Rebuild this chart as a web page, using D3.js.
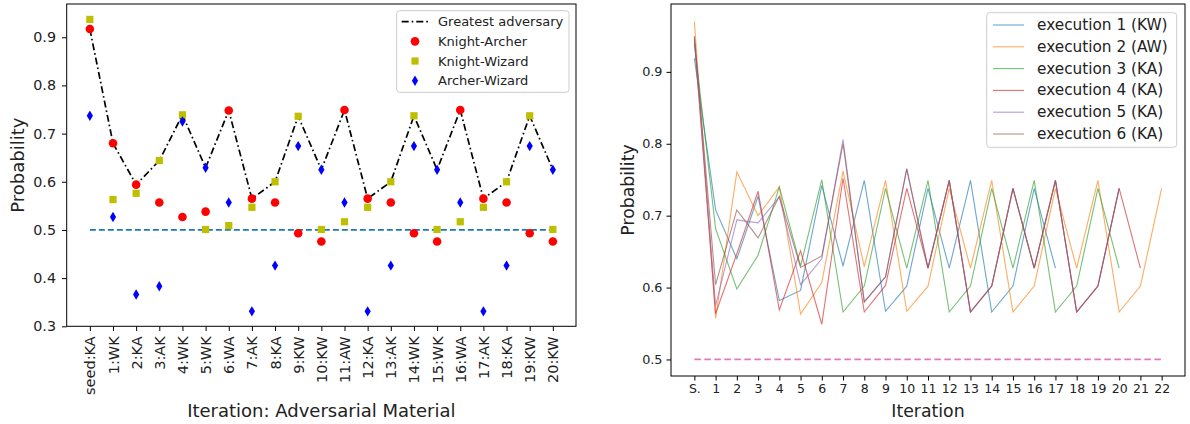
<!DOCTYPE html>
<html>
<head>
<meta charset="utf-8">
<script src="https://cdn.jsdelivr.net/npm/d3@7"></script>
<style>
  html, body { margin: 0; padding: 0; background: #fff; }
  svg { display: block; font-family: "DejaVu Sans", sans-serif; }
</style>
</head>
<body>
<svg id="chart" width="1190" height="424"></svg>
<script>
// ---- Left panel: pairwise win probabilities per iteration ----
const iterLabels = ["seed:KA", "1:WK", "2:KA", "3:AK", "4:WK", "5:WK", "6:WA", "7:AK", "8:KA", "9:KW",
  "10:KW", "11:AW", "12:KA", "13:AK", "14:WK", "15:WK", "16:WA", "17:AK", "18:KA", "19:KW", "20:KW"];
const greatestAdversary = [0.917, 0.680, 0.594, 0.644, 0.739, 0.629, 0.748, 0.565, 0.600, 0.736,
  0.625, 0.749, 0.565, 0.600, 0.737, 0.625, 0.749, 0.565, 0.600, 0.737, 0.625];
const knightArcher = [0.917, 0.680, 0.594, 0.557, 0.527, 0.538, 0.748, 0.565, 0.557, 0.493,
  0.476, 0.749, 0.565, 0.557, 0.493, 0.476, 0.749, 0.565, 0.557, 0.493, 0.476];
const knightWizard = [0.937, 0.563, 0.576, 0.644, 0.739, 0.501, 0.509, 0.547, 0.600, 0.736,
  0.501, 0.517, 0.547, 0.600, 0.737, 0.501, 0.517, 0.547, 0.600, 0.737, 0.501];
const archerWizard = [0.737, 0.527, 0.366, 0.383, 0.725, 0.629, 0.557, 0.331, 0.426, 0.674,
  0.625, 0.557, 0.331, 0.426, 0.674, 0.625, 0.557, 0.331, 0.426, 0.674, 0.625];
const leftYTicks = [0.3, 0.4, 0.5, 0.6, 0.7, 0.8, 0.9];
const baseline = 0.5;

// ---- Right panel: probability traces of six executions ----
const execNames = ["execution 1 (KW)", "execution 2 (AW)", "execution 3 (KA)",
  "execution 4 (KA)", "execution 5 (KA)", "execution 6 (KA)"];
const exec1 = [0.919, 0.708, 0.640, 0.727, 0.582, 0.596, 0.742, 0.630, 0.749, 0.567, 0.602, 0.738,
  0.627, 0.749, 0.566, 0.602, 0.738, 0.627];
const exec2 = [0.970, 0.557, 0.761, 0.700, 0.740, 0.563, 0.607, 0.762, 0.629, 0.749, 0.567, 0.602,
  0.738, 0.627, 0.749, 0.566, 0.602, 0.738, 0.627, 0.749, 0.566, 0.602, 0.738];
const exec3 = [0.940, 0.682, 0.598, 0.645, 0.740, 0.630, 0.750, 0.566, 0.602, 0.738, 0.627, 0.749,
  0.566, 0.602, 0.738, 0.627, 0.749, 0.566, 0.602, 0.738, 0.627];
const exec4 = [0.945, 0.564, 0.647, 0.734, 0.569, 0.651, 0.549, 0.752, 0.566, 0.603, 0.738, 0.627,
  0.749, 0.566, 0.602, 0.738, 0.627, 0.749, 0.566, 0.602, 0.738, 0.627];
const exec5 = [0.948, 0.575, 0.694, 0.690, 0.726, 0.604, 0.640, 0.806, 0.580, 0.615, 0.765, 0.627,
  0.749, 0.566, 0.602, 0.738, 0.627, 0.749, 0.566, 0.602, 0.738];
const exec6 = [0.950, 0.604, 0.708, 0.669, 0.727, 0.628, 0.644, 0.800, 0.580, 0.615, 0.765, 0.627,
  0.749, 0.566, 0.602, 0.738, 0.627, 0.749, 0.566, 0.602, 0.738];
const rightXTickLabels = ["S.", "1", "2", "3", "4", "5", "6", "7", "8", "9", "10", "11", "12", "13",
  "14", "15", "16", "17", "18", "19", "20", "21", "22"];
const rightYTicks = [0.5, 0.6, 0.7, 0.8, 0.9];

const tab10 = ["#1f77b4", "#ff7f0e", "#2ca02c", "#d62728", "#9467bd", "#8c564b", "#e377c2"];
const textColor = "#222";

const svg = d3.select("#chart");

// ================= Left panel =================
const L = { left: 66.7, right: 576, top: 4, bottom: 326.3 };
const xL = d3.scaleLinear().domain([-1, iterLabels.length]).range([L.left, L.right]);
const yL = d3.scaleLinear().domain([0.3, 0.969]).range([L.bottom, L.top]);

const gL = svg.append("g");

// y axis
const yAxisL = d3.axisLeft(yL).tickValues(leftYTicks).tickFormat(d3.format(".1f")).tickSize(4.7).tickPadding(6);
gL.append("g").attr("transform", `translate(${L.left},0)`).call(yAxisL)
  .call(g => g.select(".domain").remove())
  .call(g => g.selectAll("line").attr("stroke", "#000").attr("stroke-width", 1))
  .call(g => g.selectAll("text").attr("font-size", 14.3).attr("fill", textColor)
    .attr("font-family", "DejaVu Sans"));

// x axis with rotated labels
const xAxisL = d3.axisBottom(xL).tickValues(d3.range(iterLabels.length))
  .tickFormat(i => iterLabels[i]).tickSize(4.7).tickPadding(4);
gL.append("g").attr("transform", `translate(0,${L.bottom})`).call(xAxisL)
  .call(g => g.select(".domain").remove())
  .call(g => g.selectAll("line").attr("stroke", "#000").attr("stroke-width", 1))
  .call(g => g.selectAll("text").attr("font-size", 14.5).attr("fill", textColor)
    .attr("font-family", "DejaVu Sans")
    .attr("text-anchor", "end").attr("dy", null).attr("y", 0)
    .attr("dominant-baseline", "central")
    .attr("transform", "translate(0,10) rotate(-90)"));

// reference line at 0.5
gL.append("line")
  .attr("x1", xL(0)).attr("x2", xL(iterLabels.length - 1))
  .attr("y1", yL(baseline)).attr("y2", yL(baseline))
  .attr("stroke", tab10[0]).attr("stroke-width", 1.8).attr("stroke-dasharray", "6,3");

// greatest adversary line
const lineL = d3.line().x((d, i) => xL(i)).y(d => yL(d));
gL.append("path").datum(greatestAdversary).attr("d", lineL)
  .attr("fill", "none").attr("stroke", "#000").attr("stroke-width", 1.7)
  .attr("stroke-dasharray", "7,3,1.6,3");

// markers
const diamondPath = (cx, cy) => `M${cx},${cy - 5.2}L${cx + 3.1},${cy}L${cx},${cy + 5.2}L${cx - 3.1},${cy}Z`;

gL.append("g").selectAll("circle").data(knightArcher).join("circle")
  .attr("cx", (d, i) => xL(i)).attr("cy", d => yL(d)).attr("r", 4.3).attr("fill", "#ff0000");
gL.append("g").selectAll("rect").data(knightWizard).join("rect")
  .attr("x", (d, i) => xL(i) - 3.6).attr("y", d => yL(d) - 3.6)
  .attr("width", 7.2).attr("height", 7.2).attr("fill", "#bfbf00");
gL.append("g").selectAll("path").data(archerWizard).join("path")
  .attr("d", (d, i) => diamondPath(xL(i), yL(d))).attr("fill", "#0000ff");

// frame
gL.append("rect").attr("x", L.left).attr("y", L.top)
  .attr("width", L.right - L.left).attr("height", L.bottom - L.top)
  .attr("fill", "none").attr("stroke", "#000").attr("stroke-width", 1);

// axis titles
gL.append("text").attr("x", (L.left + L.right) / 2).attr("y", 417)
  .attr("text-anchor", "middle").attr("font-size", 18).attr("fill", textColor)
  .text("Iteration: Adversarial Material");
gL.append("text").attr("transform", `translate(24,${(L.top + L.bottom) / 2}) rotate(-90)`)
  .attr("text-anchor", "middle").attr("font-size", 18).attr("fill", textColor)
  .text("Probability");

// legend
const legL = gL.append("g");
legL.append("rect").attr("x", 396.7).attr("y", 10.7).attr("width", 172.3).attr("height", 81.6)
  .attr("rx", 3).attr("fill", "#fff").attr("fill-opacity", 0.8)
  .attr("stroke", "#ccc").attr("stroke-width", 1);
const legLItems = ["Greatest adversary", "Knight-Archer", "Knight-Wizard", "Archer-Wizard"];
legLItems.forEach((name, k) => {
  const cy = 21.7 + k * 19.67;
  const hx = 415;
  if (k === 0) {
    legL.append("line").attr("x1", 401.7).attr("x2", 428).attr("y1", cy).attr("y2", cy)
      .attr("stroke", "#000").attr("stroke-width", 1.7).attr("stroke-dasharray", "7,3,1.6,3");
  } else if (k === 1) {
    legL.append("circle").attr("cx", hx).attr("cy", cy).attr("r", 4.3).attr("fill", "#ff0000");
  } else if (k === 2) {
    legL.append("rect").attr("x", hx - 3.6).attr("y", cy - 3.6).attr("width", 7.2).attr("height", 7.2)
      .attr("fill", "#bfbf00");
  } else {
    legL.append("path").attr("d", diamondPath(hx, cy)).attr("fill", "#0000ff");
  }
  legL.append("text").attr("x", 438).attr("y", cy).attr("dominant-baseline", "central")
    .attr("font-size", 13).attr("fill", textColor).text(name);
});

// ================= Right panel =================
const R = { left: 671, right: 1185, top: 4, bottom: 376 };
const xR = d3.scaleLinear().domain([-1.1, 23.1]).range([R.left, R.right]);
const yR = d3.scaleLinear().domain([0.477, 0.9944]).range([R.bottom, R.top]);

const gR = svg.append("g");

const yAxisR = d3.axisLeft(yR).tickValues(rightYTicks).tickFormat(d3.format(".1f")).tickSize(4.5).tickPadding(4);
gR.append("g").attr("transform", `translate(${R.left},0)`).call(yAxisR)
  .call(g => g.select(".domain").remove())
  .call(g => g.selectAll("line").attr("stroke", "#000").attr("stroke-width", 1))
  .call(g => g.selectAll("text").attr("font-size", 12.8).attr("fill", textColor)
    .attr("font-family", "DejaVu Sans"));

const xAxisR = d3.axisBottom(xR).tickValues(d3.range(rightXTickLabels.length))
  .tickFormat(i => rightXTickLabels[i]).tickSize(4.5).tickPadding(4);
gR.append("g").attr("transform", `translate(0,${R.bottom})`).call(xAxisR)
  .call(g => g.select(".domain").remove())
  .call(g => g.selectAll("line").attr("stroke", "#000").attr("stroke-width", 1))
  .call(g => g.selectAll("text").attr("font-size", 12.5).attr("fill", textColor)
    .attr("font-family", "DejaVu Sans"));

const execs = [exec1, exec2, exec3, exec4, exec5, exec6];
const lineR = d3.line().x((d, i) => xR(i)).y(d => yR(d));
gR.append("g").selectAll("path").data(execs).join("path")
  .attr("d", lineR).attr("fill", "none")
  .attr("stroke", (d, i) => tab10[i]).attr("stroke-width", 1.1).attr("stroke-opacity", 0.65)
  .attr("stroke-linejoin", "miter");

// 0.5 reference
gR.append("line").attr("x1", xR(0)).attr("x2", xR(rightXTickLabels.length - 1))
  .attr("y1", yR(baseline)).attr("y2", yR(baseline))
  .attr("stroke", tab10[6]).attr("stroke-width", 1.8).attr("stroke-dasharray", "6.5,3.5");

gR.append("rect").attr("x", R.left).attr("y", R.top)
  .attr("width", R.right - R.left).attr("height", R.bottom - R.top)
  .attr("fill", "none").attr("stroke", "#000").attr("stroke-width", 1);

gR.append("text").attr("x", (R.left + R.right) / 2).attr("y", 417)
  .attr("text-anchor", "middle").attr("font-size", 17.3).attr("fill", textColor).text("Iteration");
gR.append("text").attr("transform", `translate(634,${(R.top + R.bottom) / 2}) rotate(-90)`)
  .attr("text-anchor", "middle").attr("font-size", 17.3).attr("fill", textColor).text("Probability");

const legR = gR.append("g");
legR.append("rect").attr("x", 986.7).attr("y", 12.7).attr("width", 190).attr("height", 134.6)
  .attr("rx", 3).attr("fill", "#fff").attr("fill-opacity", 0.8)
  .attr("stroke", "#ccc").attr("stroke-width", 1);
execNames.forEach((name, k) => {
  const cy = 25 + k * 21.8;
  legR.append("line").attr("x1", 993).attr("x2", 1024).attr("y1", cy).attr("y2", cy)
    .attr("stroke", tab10[k]).attr("stroke-width", 1.1).attr("stroke-opacity", 0.65);
  legR.append("text").attr("x", 1037).attr("y", cy).attr("dominant-baseline", "central")
    .attr("font-size", 15.3).attr("fill", textColor).text(name);
});
</script>
</body>
</html>
